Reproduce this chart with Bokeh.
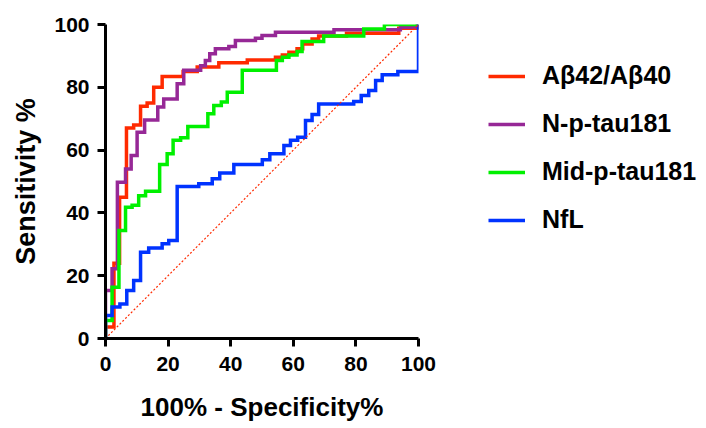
from bokeh.plotting import figure
from bokeh.models import Range1d, Legend, LegendItem, FixedTicker
from bokeh.embed import file_html
from bokeh.resources import INLINE

# ---- data (100% - Specificity%, Sensitivity %) step breakpoints ----
red_fpr = [0, 2.7, 4.5, 6.7, 9.0, 11.2, 13.3, 15.4, 18.1, 24.8, 29.3, 36.2, 45.3, 54.3, 56.5, 58.6, 61.2, 63.0, 66.0, 68.1, 77.0, 93.7, 100]
red_tpr = [3.7, 24, 45, 67, 68, 74, 75, 80, 83.4, 85, 86.5, 87.8, 88.7, 89.6, 90.3, 91.2, 92.3, 93.8, 95.4, 96.3, 97.2, 98.8, 100]

purple_fpr = [0, 2.1, 3.8, 6.4, 8.2, 10.1, 12.5, 16.7, 18.6, 22.9, 25.0, 30.4, 31.9, 33.3, 35.1, 39.4, 41.5, 47.9, 50.0, 54.3, 73.0, 94.2, 99.6]
purple_tpr = [15.3, 22.2, 49.8, 54.0, 58.3, 65.7, 69.6, 73.7, 76.3, 81.1, 85.4, 86.9, 88.5, 90.7, 92.3, 93.0, 94.9, 95.6, 96.5, 97.5, 98.3, 99.1, 100]

green_fpr = [0, 2.1, 4.3, 6.4, 8.5, 10.6, 12.8, 17.3, 19.7, 21.6, 24.0, 26.3, 32.7, 34.6, 37.0, 38.9, 43.7, 54.6, 56.5, 58.6, 61.2, 62.8, 69.7, 82.5, 89.1]
green_tpr = [5.7, 16.3, 34.4, 41.8, 42.4, 45.5, 46.9, 55.4, 58.8, 63.1, 63.9, 67.5, 71.6, 74.2, 75.3, 78.4, 85.4, 88.5, 89.6, 90.3, 91.4, 94.6, 96.3, 98.6, 100]

blue_fpr = [0, 2.1, 4.6, 6.8, 9.0, 11.2, 13.8, 18.1, 20.2, 22.9, 29.8, 34.1, 36.5, 41.0, 50.1, 52.5, 57.0, 59.1, 61.4, 63.9, 66.0, 68.1, 79.3, 81.7, 84.1, 86.3, 88.4, 93.4, 100]
blue_tpr = [7.3, 10.0, 11.0, 15.3, 18.5, 27.5, 28.8, 30.2, 31.2, 48.4, 49.3, 50.9, 52.7, 55.4, 56.9, 58.8, 61.5, 63.1, 64.1, 69.4, 71.3, 74.7, 75.5, 77.4, 79.0, 82.2, 84.0, 85.0, 100]

series_names = ["Aβ42/Aβ40", "N-p-tau181", "Mid-p-tau181", "NfL"]
series_colors = ["#FF2A00", "#962896", "#00F000", "#0033FF"]
ticks = [0, 20, 40, 60, 80, 100]

x_label = "100% - Specificity%"
y_label = "Sensitivity %"


def step_path(fpr, tpr):
    xs, ys = [0.0], [0.0]
    prev = 0.0
    for x, y in zip(fpr, tpr):
        xs += [x, x]
        ys += [prev, y]
        prev = y
    if xs[-1] < 100:
        xs.append(100)
        ys.append(prev)
    return xs, ys


FONT = "Liberation Sans"

p = figure(frame_width=313, frame_height=314,
           min_border_left=105, min_border_right=288, min_border_top=24, min_border_bottom=90,
           x_range=Range1d(0, 100), y_range=Range1d(0, 100),
           output_backend="svg", toolbar_location=None)
p.outline_line_color = None
p.xgrid.visible = False
p.ygrid.visible = False
p.background_fill_color = "white"
p.border_fill_color = "white"

items = []
for (fpr, tpr), name, col in zip(
        [(red_fpr, red_tpr), (purple_fpr, purple_tpr), (green_fpr, green_tpr), (blue_fpr, blue_tpr)],
        series_names, series_colors):
    xs, ys = step_path(fpr, tpr)
    r = p.line(xs, ys, line_color=col, line_width=3.5, line_join="miter")
    items.append(LegendItem(label=name, renderers=[r]))

p.line([0, 100], [0, 100], line_color="#FF2A00", line_width=1.2, line_dash="2 2")

for ax in (p.xaxis[0], p.yaxis[0]):
    ax.ticker = FixedTicker(ticks=ticks)
    ax.axis_line_width = 3
    ax.axis_line_color = "black"
    ax.major_tick_line_width = 3
    ax.major_tick_out = 8
    ax.major_tick_in = 0
    ax.minor_tick_line_color = None
    ax.major_label_text_font = FONT
    ax.major_label_text_font_style = "bold"
    ax.major_label_text_font_size = "21px"
    ax.major_label_text_color = "black"
    ax.axis_label_text_font = FONT
    ax.axis_label_text_font_style = "bold"
    ax.axis_label_text_color = "black"

p.xaxis.axis_label = x_label
p.yaxis.axis_label = y_label
p.xaxis.axis_label_text_font_size = "26px"
p.yaxis.axis_label_text_font_size = "27px"
p.xaxis.major_label_standoff = 10
p.yaxis.major_label_standoff = 8
p.xaxis.axis_label_standoff = 18
p.yaxis.axis_label_standoff = 10

legend = Legend(items=items, location=(70, 104), orientation="vertical",
                padding=0, margin=0, spacing=19,
                glyph_width=37, glyph_height=24, label_height=24, label_standoff=17,
                label_text_font=FONT, label_text_font_style="bold",
                label_text_font_size="25px", label_text_color="black",
                border_line_color=None, background_fill_alpha=0)
p.add_layout(legend, "right")

open("out.html", "w").write(file_html(p, INLINE))
